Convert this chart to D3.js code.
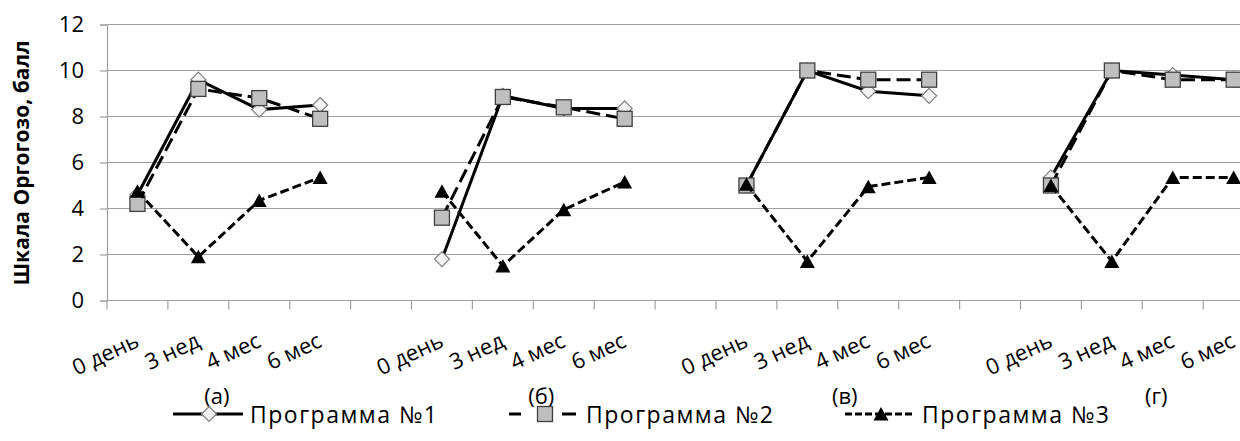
<!DOCTYPE html>
<html>
<head>
<meta charset="utf-8">
<script src="https://cdn.jsdelivr.net/npm/d3@7"></script>
<style>
  body { margin: 0; background: #fff; }
  text { font-family: "Open Sans", "Noto Sans", sans-serif; fill: #000; }
</style>
</head>
<body>
<script>
// time points inside each panel, panel captions
var timepoints = ["0 день", "3 нед", "4 мес", "6 мес"];
var panels = ["(а)", "(б)", "(в)", "(г)"];
var seriesNames = ["Программа №1", "Программа №2", "Программа №3"];
var yTicks = [0, 2, 4, 6, 8, 10, 12];

// scores, 4 per panel (а, б, в, г)
var prog1 = [4.6, 9.6, 8.3, 8.5,   1.8, 8.9, 8.35, 8.35,   5.0, 10.0, 9.1, 8.9,   5.35, 10.0, 9.8, 9.6];
var prog2 = [4.2, 9.2, 8.8, 7.9,   3.6, 8.85, 8.4, 7.9,    5.0, 10.0, 9.6, 9.6,   5.0, 10.0, 9.6, 9.6];
var prog3 = [4.75, 1.9, 4.35, 5.35, 4.75, 1.5, 3.95, 5.15, 5.05, 1.7, 4.95, 5.35, 5.0, 1.7, 5.35, 5.35];

var W = 1240, H = 441;
var plotLeft = 107, plotTop = 24.5, plotBottom = 300.5, step = 60.9;

var svg = d3.select("body").append("svg").attr("width", W).attr("height", H);
svg.append("rect").attr("width", W).attr("height", H).attr("fill", "#fff");

// category keys: 4 time points per panel + an empty slot after each (except the last)
var keys = [];
panels.forEach(function(p, pi) {
  timepoints.forEach(function(t, ti) { keys.push(pi + "-" + ti); });
  if (pi < panels.length - 1) keys.push(pi + "-gap");
});

var x = d3.scaleBand().domain(keys).range([plotLeft, plotLeft + keys.length * step]).padding(0);
var y = d3.scaleLinear().domain([0, 12]).range([plotBottom, plotTop]);

var grey = "#a0a0a0";

// gridlines
svg.append("g").selectAll("line").data(yTicks.filter(function(d) { return d > 0; }))
  .enter().append("line")
  .attr("x1", plotLeft).attr("x2", W)
  .attr("y1", function(d) { return y(d); }).attr("y2", function(d) { return y(d); })
  .attr("stroke", grey).attr("stroke-width", 1.2);

// y axis
var yAxis = svg.append("g").attr("transform", "translate(" + plotLeft + ",0)")
  .call(d3.axisLeft(y).tickValues(yTicks).tickSize(7).tickPadding(16).tickFormat(d3.format("d")));
yAxis.select(".domain").attr("stroke", grey).attr("stroke-width", 1.2);
yAxis.selectAll(".tick line").attr("stroke", grey).attr("stroke-width", 1.2);
yAxis.selectAll(".tick text").style("font-size", "22px").style("font-family", "Open Sans");

// x axis line + tick marks on band edges
svg.append("line").attr("x1", plotLeft).attr("x2", W).attr("y1", plotBottom).attr("y2", plotBottom)
  .attr("stroke", grey).attr("stroke-width", 1.2);
svg.append("g").selectAll("line").data(keys)
  .enter().append("line")
  .attr("x1", function(d) { return x(d); }).attr("x2", function(d) { return x(d); })
  .attr("y1", plotBottom).attr("y2", plotBottom + 9)
  .attr("stroke", grey).attr("stroke-width", 1.2);

// rotated category labels
var labelKeys = keys.filter(function(k) { return k.indexOf("gap") < 0; });
svg.append("g").selectAll("text").data(labelKeys)
  .enter().append("text")
  .attr("transform", function(k) {
    return "translate(" + (x(k) + x.bandwidth() / 2 + 3) + ",346) rotate(-25)";
  })
  .attr("text-anchor", "end")
  .style("font-size", "22px")
  .text(function(k) { return timepoints[+k.split("-")[1]]; });

// panel captions
var nudge = [-12, 8, 7, 14];
svg.append("g").selectAll("text").data(panels)
  .enter().append("text")
  .attr("x", function(p, i) { return x(i + "-1") + x.bandwidth() + nudge[i]; })
  .attr("y", 404)
  .attr("text-anchor", "middle")
  .style("font-size", "22px")
  .text(function(p) { return p; });

// y title
svg.append("text")
  .attr("transform", "translate(21,163) rotate(-90)")
  .attr("text-anchor", "middle").attr("dominant-baseline", "central")
  .style("font-size", "21px").style("font-weight", "bold")
  .text("Шкала Оргогозо,  балл");

// markers
function diamond(g) {
  g.append("path").attr("d", "M0,-7.5L7.5,0L0,7.5L-7.5,0Z")
    .attr("fill", "#f2f2f2").attr("stroke", "#7f7f7f").attr("stroke-width", 1.2);
}
function square(g) {
  g.append("rect").attr("x", -7.5).attr("y", -7.5).attr("width", 15).attr("height", 15)
    .attr("fill", "#bfbfbf").attr("stroke", "#404040").attr("stroke-width", 1.3);
}
function triangle(g) {
  g.append("path").attr("d", "M0,-7L7.5,6.5L-7.5,6.5Z").attr("fill", "#000");
}

var series = [
  { values: prog1, dash: null, legDash: null, marker: diamond },
  { values: prog2, dash: "14,6", legDash: "12,16,14,11,14", marker: square },
  { values: prog3, dash: "9,4", legDash: "7,3", marker: triangle }
];

var line = d3.line()
  .x(function(d) { return x(d.key) + x.bandwidth() / 2; })
  .y(function(d) { return y(d.v); });

series.forEach(function(s) {
  var g = svg.append("g");
  panels.forEach(function(p, pi) {
    var pts = timepoints.map(function(t, ti) {
      return { key: pi + "-" + ti, v: s.values[pi * 4 + ti] };
    });
    g.append("path")
      .attr("d", line(pts))
      .attr("fill", "none").attr("stroke", "#000").attr("stroke-width", 3)
      .attr("stroke-dasharray", s.dash);
    pts.forEach(function(d) {
      var m = g.append("g").attr("transform", "translate(" + (x(d.key) + x.bandwidth() / 2) + "," + y(d.v) + ")");
      s.marker(m);
    });
  });
});

// legend
var leg = svg.append("g").attr("transform", "translate(173,414)");
series.forEach(function(s, i) {
  var item = leg.append("g").attr("transform", "translate(" + (i * 336) + ",0)");
  item.append("line").attr("x1", 0).attr("x2", 70).attr("y1", 0).attr("y2", 0)
    .attr("stroke", "#000").attr("stroke-width", 3).attr("stroke-dasharray", s.legDash);
  s.marker(item.append("g").attr("transform", "translate(36,0)"));
  item.append("text").attr("x", 77).attr("y", 0).attr("dominant-baseline", "central")
    .style("font-size", "23px").style("letter-spacing", "1.5px").text(seriesNames[i]);
});
</script>
</body>
</html>
